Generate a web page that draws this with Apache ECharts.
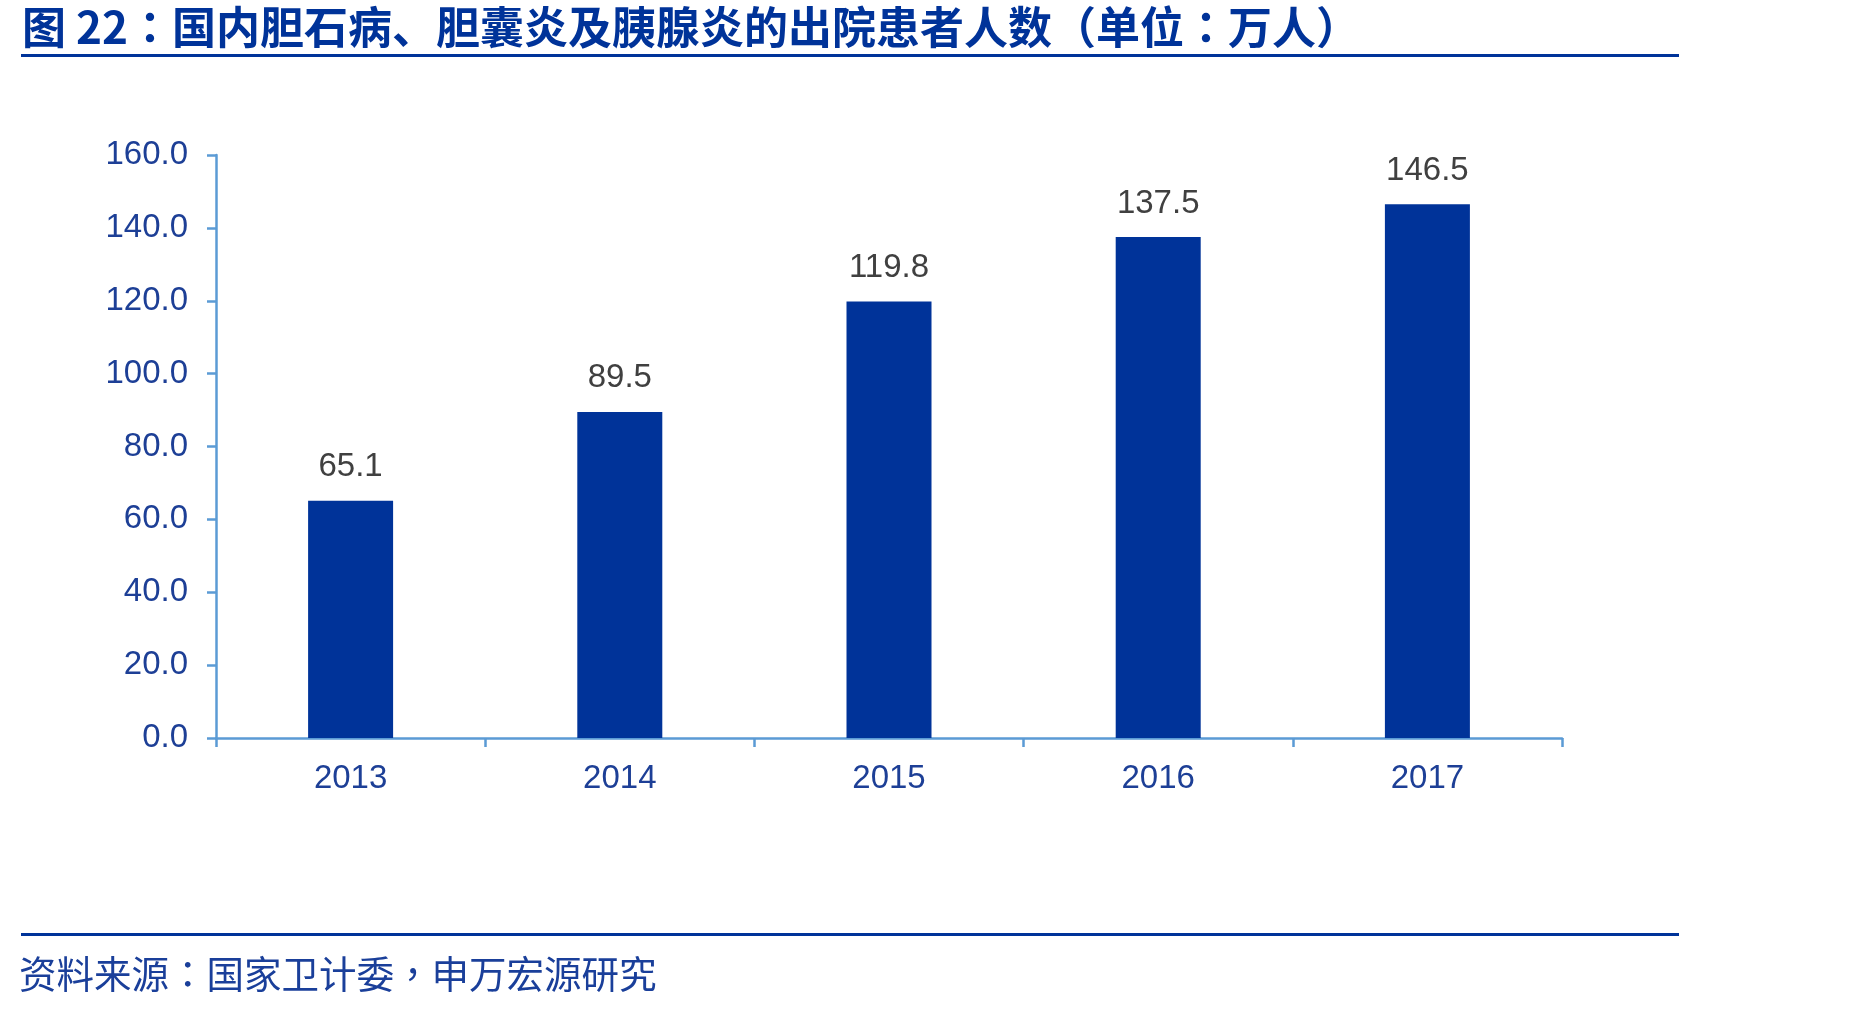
<!DOCTYPE html>
<html>
<head>
<meta charset="utf-8">
<script src="https://cdn.jsdelivr.net/npm/echarts@6/dist/echarts.min.js"></script>
<style>
html,body{margin:0;padding:0;background:#fff;}
#chart{width:1849px;height:1010px;}
</style>
</head>
<body>
<div id="chart"></div>
<script>
const titleParts = ['图 22：国内胆石病', '、', '胆囊炎及胰腺炎的出院患者人数（单位：万人）'];
const sourceText = '资料来源：国家卫计委，申万宏源研究';
const categories = ['2013', '2014', '2015', '2016', '2017'];
const patients = [65.1, 89.5, 119.8, 137.5, 146.5];
const yMin = 0, yMax = 160, yInterval = 20;

const chart = echarts.init(document.getElementById('chart'), null, {renderer: 'canvas'});
const numFont = '"Liberation Sans", Arial, sans-serif';
const cjkFont = '"Noto Sans CJK TC", "Noto Sans CJK SC", sans-serif';
const scFont = '"Noto Sans CJK SC", sans-serif';
const axisColor = '#5b9bd5';
const labelBlue = '#1d3f96';

chart.setOption({
  backgroundColor: '#ffffff',
  animation: false,
  grid: {left: 216, right: 287, top: 155, bottom: 272, containLabel: false},
  xAxis: {
    type: 'category',
    data: categories,
    boundaryGap: true,
    axisLine: {show: true, lineStyle: {color: axisColor, width: 2.5}},
    axisTick: {show: true, alignWithLabel: false, length: 9, lineStyle: {color: axisColor, width: 2.5}},
    axisLabel: {color: labelBlue, fontFamily: numFont, fontSize: 33, margin: 24},
    splitLine: {show: false}
  },
  yAxis: {
    type: 'value',
    min: yMin, max: yMax, interval: yInterval,
    axisLine: {show: true, lineStyle: {color: axisColor, width: 2.5}},
    axisTick: {show: true, length: 9, lineStyle: {color: axisColor, width: 2.5}},
    axisLabel: {color: labelBlue, fontFamily: numFont, fontSize: 33, margin: 28,
      formatter: v => v.toFixed(1)},
    splitLine: {show: false}
  },
  series: [{
    type: 'bar',
    data: patients,
    barWidth: 85,
    itemStyle: {color: '#003399'},
    label: {show: true, position: 'top', distance: 17, color: '#404040',
      fontFamily: numFont, fontSize: 33, formatter: p => p.value.toFixed(1)}
  }],
  graphic: [
    {type: 'text', left: 22, top: 5, z: 10,
      style: {
        text: '{t|' + titleParts[0] + '}{s|' + titleParts[1] + '}{t|' + titleParts[2] + '}',
        rich: {
          t: {font: 'bold 44px ' + cjkFont, fill: '#003399', color: '#003399'},
          s: {font: 'bold 44px ' + scFont, fill: '#003399', color: '#003399'}
        }
      }},
    {type: 'rect', shape: {x: 21, y: 54, width: 1658, height: 3}, style: {fill: '#003399'}},
    {type: 'rect', shape: {x: 21, y: 933, width: 1658, height: 3}, style: {fill: '#003399'}},
    {type: 'text', left: 19, top: 955, z: 10,
      style: {text: sourceText, font: '37.5px ' + cjkFont, fill: '#1a3f9a'}}
  ]
});
</script>
</body>
</html>
